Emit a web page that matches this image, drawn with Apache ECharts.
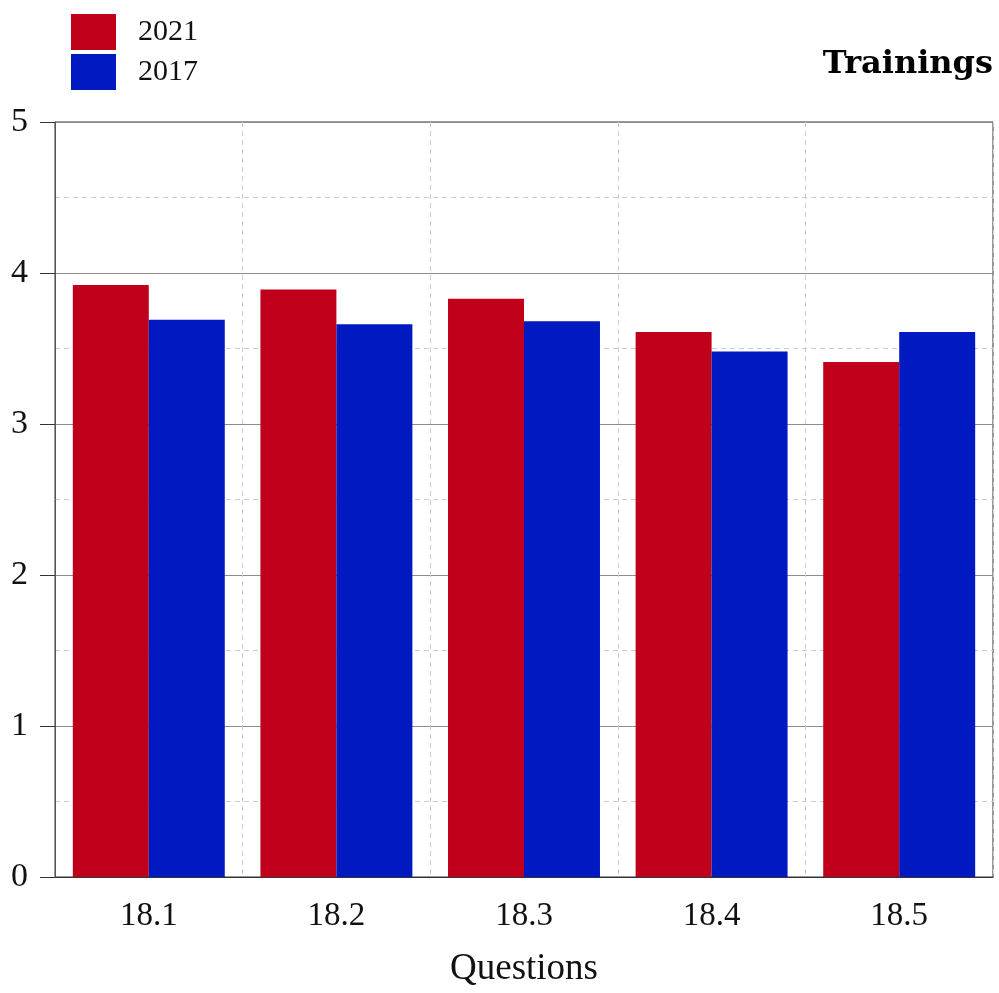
<!DOCTYPE html>
<html>
<head>
<meta charset="utf-8">
<script src="https://cdn.jsdelivr.net/npm/echarts@6/dist/echarts.min.js"></script>
<style>html,body{margin:0;padding:0;background:#fff;overflow:hidden;}#c{width:999px;height:993px;}</style>
</head>
<body>
<div id="c"></div>
<script>
const categories = ['18.1', '18.2', '18.3', '18.4', '18.5'];
const values2021 = [3.92, 3.89, 3.83, 3.61, 3.41];
const values2017 = [3.69, 3.66, 3.68, 3.48, 3.61];
const yTicks = [0, 1, 2, 3, 4, 5];

const chart = echarts.init(document.getElementById('c'));
const serif = 'Liberation Serif';
chart.setOption({
  animation: false,
  backgroundColor: '#fff',
  title: {
    text: 'Trainings', right: 1, top: 44,
    textStyle: { fontFamily: 'DejaVu Serif', fontWeight: 'bold', fontSize: 32, color: '#000' }
  },
  legend: {
    orient: 'vertical', left: 66, top: 9,
    itemWidth: 45, itemHeight: 36, itemGap: 4,
    icon: 'rect',
    textStyle: { fontFamily: serif, fontSize: 30, color: '#111', padding: [0, 0, 0, 17] },
    data: ['2021', '2017']
  },
  grid: { left: 55, right: 6, top: 122, bottom: 113, show: true, borderColor: '#333', borderWidth: 1 },
  xAxis: {
    type: 'category', data: categories,
    name: 'Questions', nameLocation: 'middle', nameGap: 74,
    nameTextStyle: { fontFamily: serif, fontSize: 37, color: '#111' },
    axisLine: { lineStyle: { color: '#333', width: 1 } },
    axisTick: { alignWithLabel: true, length: 13, lineStyle: { color: '#888', width: 1.5 } },
    axisLabel: { fontFamily: serif, fontSize: 33, color: '#111', margin: 23 },
    splitLine: { show: true, lineStyle: { color: '#ccc', type: [5, 4] } }
  },
  yAxis: {
    type: 'value', min: yTicks[0], max: yTicks[yTicks.length - 1], interval: 1,
    axisLine: { show: true, lineStyle: { color: '#555', width: 1 } },
    axisTick: { show: true, length: 15, lineStyle: { color: '#333' } },
    axisLabel: { fontFamily: serif, fontSize: 34, color: '#111', margin: 27 },
    splitLine: { show: true, lineStyle: { color: '#8c8c8c', width: 1 } },
    minorTick: { show: false, splitNumber: 2 },
    minorSplitLine: { show: true, lineStyle: { color: '#ccc', type: [5, 4] } }
  },
  series: [
    { name: '2021', type: 'bar', data: values2021, itemStyle: { color: '#c0001b' }, barGap: '0%', barCategoryGap: '19%' },
    { name: '2017', type: 'bar', data: values2017, itemStyle: { color: '#0019c0' }, barGap: '0%', barCategoryGap: '19%' }
  ]
});
</script>
</body>
</html>
